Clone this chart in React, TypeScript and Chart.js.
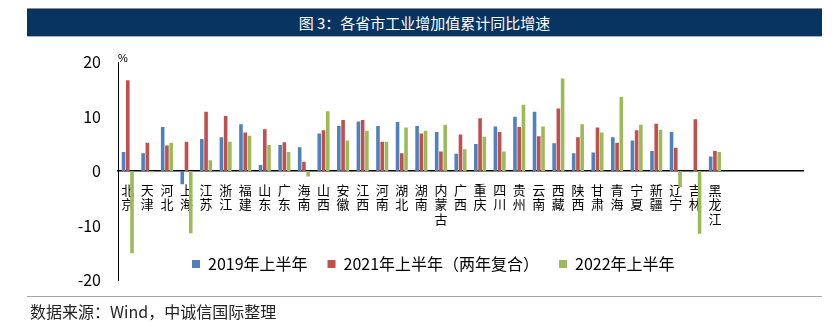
import React, { useEffect, useRef } from 'react';
import { Chart, registerables } from 'chart.js';

Chart.register(...registerables);

const categories = ['北京', '天津', '河北', '上海', '江苏', '浙江', '福建', '山东', '广东', '海南', '山西', '安徽', '江西', '河南', '湖北', '湖南', '内蒙古', '广西', '重庆', '四川', '贵州', '云南', '西藏', '陕西', '甘肃', '青海', '宁夏', '新疆', '辽宁', '吉林', '黑龙江'];
const emptySlots = ['', '', '', ''];

const h1_2019 = [3.5, 3.3, 8.1, -2.4, 5.9, 6.2, 8.6, 1.1, 4.8, 4.4, 6.9, 8.3, 9.1, 8.3, 9.0, 8.3, 7.2, 3.2, 5.0, 8.2, 10.0, 10.9, 5.1, 3.3, 3.4, 6.2, 5.6, 3.7, 7.2, -0.2, 2.7];
const h1_2021 = [16.7, 5.2, 4.7, 5.4, 10.9, 10.1, 7.1, 7.7, 5.3, 1.7, 7.5, 9.4, 9.4, 5.4, 3.3, 6.9, 3.6, 6.7, 9.7, 7.2, 8.1, 6.4, 11.5, 6.2, 8.0, 5.2, 7.5, 8.7, 4.3, 9.5, 3.7];
const h1_2022 = [-15.1, -0.2, 5.2, -11.4, 2.0, 5.4, 6.5, 4.8, 3.5, -1.0, 11.0, 5.6, 7.4, 5.4, 8.0, 7.4, 8.5, 4.0, 6.3, 3.6, 12.2, 8.2, 17.0, 8.6, 7.1, 13.6, 8.5, 7.6, -2.9, -11.5, 3.5];

const seriesNames = ['2019年上半年', '2021年上半年（两年复合）', '2022年上半年'];
const yTicks = { min: -20, max: 20, step: 10 };

const LEGEND_TOP = 196;
const LEGEND_LEFT = 145;

const legendMover = {
  id: 'legendMover',
  afterLayout(chart: any) {
    const lg = chart.legend;
    if (!lg) return;
    const h = lg.height;
    lg.top = LEGEND_TOP;
    lg.bottom = LEGEND_TOP + h;
    lg.left = LEGEND_LEFT;
  },
};

export default function App() {
  const ref = useRef<HTMLCanvasElement>(null);

  useEffect(() => {
    const numFont = 'Liberation Sans Narrow, Noto Sans CJK SC, sans-serif';
    const cjkFont = 'Noto Sans CJK SC, sans-serif';
    const chart = new Chart(ref.current as HTMLCanvasElement, {
      type: 'bar',
      data: {
        labels: [...categories, ...emptySlots].map((c) => (c ? c.split('') : '')),
        datasets: [
          { label: seriesNames[0], data: h1_2019, backgroundColor: '#4F81BD', borderWidth: 0 },
          { label: seriesNames[1], data: h1_2021, backgroundColor: '#C0504D', borderWidth: 0 },
          { label: seriesNames[2], data: h1_2022, backgroundColor: '#9BBB59', borderWidth: 0 },
        ],
      },
      options: {
        responsive: false,
        animation: false,
        datasets: { bar: { categoryPercentage: 0.65, barPercentage: 0.85 } },
        layout: { padding: { left: 0, right: 19, top: 0, bottom: 0 } },
        plugins: {
          title: {
            display: true,
            text: '%',
            align: 'start',
            position: 'top',
            fullSize: false,
            color: '#000',
            padding: { top: 12, bottom: -3 },
            font: { family: 'Liberation Sans, sans-serif', size: 11, weight: 'normal' },
          },
          legend: {
            display: true,
            position: 'bottom',
            align: 'start',
            labels: {
              boxWidth: 8,
              boxHeight: 8,
              padding: 20,
              color: '#000',
              font: { family: numFont, size: 16 },
            },
          },
          tooltip: { enabled: false },
        },
        scales: {
          x: {
            position: { y: 0 } as any,
            grid: { display: false },
            border: { display: true, color: '#000', width: 1.5 },
            ticks: {
              autoSkip: false,
              maxRotation: 0,
              minRotation: 0,
              padding: 4,
              color: '#000',
              font: { family: cjkFont, size: 13, lineHeight: 1.1 },
            },
          },
          y: {
            min: yTicks.min,
            max: yTicks.max,
            grid: { display: false },
            border: { display: true, color: '#000', width: 1 },
            ticks: {
              stepSize: yTicks.step,
              padding: 9,
              color: '#000',
              font: { family: numFont, size: 16 },
            },
            afterFit: (s: any) => {
              s.width = 91;
            },
          },
        },
      },
      plugins: [legendMover],
    });
    return () => chart.destroy();
  }, []);

  return (
    <div style={{ position: 'fixed', left: 0, top: 0, width: 839, height: 329, overflow: 'hidden', background: '#fff' }}>
      <div
        style={{
          position: 'absolute',
          left: 27,
          top: 8,
          width: 795,
          height: 29,
          boxSizing: 'border-box',
          background: '#083462',
          borderTop: '1px solid #8a8a8a',
          borderBottom: '1px solid #b0b0b0',
          color: '#fff',
          textAlign: 'center',
          fontFamily: 'Noto Sans CJK SC, sans-serif',
          fontSize: 15,
          lineHeight: '27px',
        }}
      >
        图 3：各省市工业增加值累计同比增速
      </div>
      <canvas ref={ref} width={795} height={286} style={{ position: 'absolute', left: 27, top: 40, width: 795, height: 286 }} />
      <div style={{ position: 'absolute', left: 27, top: 296, width: 795, height: 1, background: '#a6a6a6' }} />
      <div
        style={{
          position: 'absolute',
          left: 30,
          top: 300,
          fontFamily: 'Noto Sans CJK SC, sans-serif',
          fontSize: 16,
          lineHeight: '22px',
          color: '#222',
          whiteSpace: 'nowrap',
        }}
      >
        数据来源：Wind，中诚信国际整理
      </div>
    </div>
  );
}
